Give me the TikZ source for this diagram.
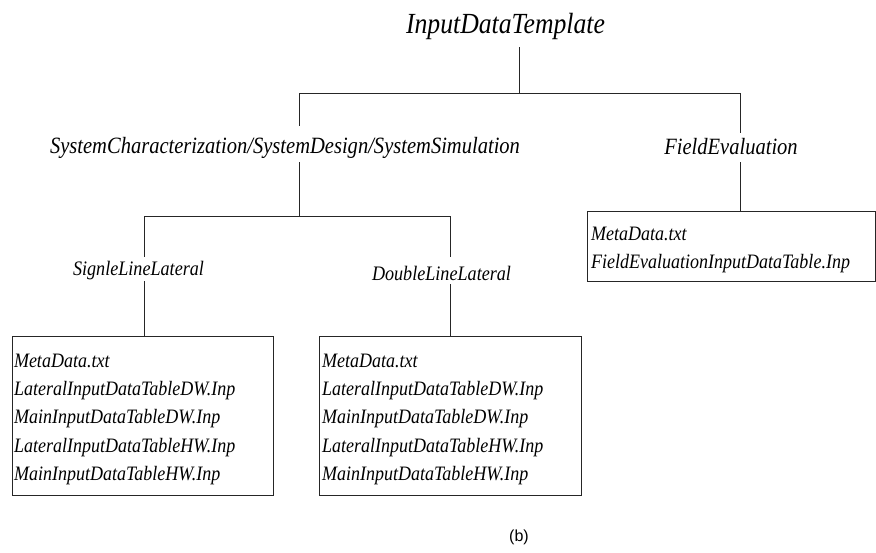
\documentclass[tikz,border=0pt]{standalone}
\usepackage{fontspec}
% narrow Times-like face for all tree texts
\setmainfont{Liberation Serif}[FakeStretch=0.88]
\setsansfont{Liberation Sans}
\usetikzlibrary{calc}
\begin{document}
\begin{tikzpicture}[x=0.75pt, y=-0.75pt, line width=0.7pt, draw=black!85,
  every node/.style={inner sep=0pt, outer sep=0pt},
  rootlbl/.style={anchor=base, font=\itshape\fontsize{21.9}{25}\selectfont},
  grouplbl/.style={anchor=base, font=\itshape\fontsize{17.5}{20}\selectfont},
  sublbl/.style={anchor=base, font=\itshape\fontsize{15.45}{18}\selectfont},
  fileline/.style={anchor=base west, font=\itshape\fontsize{15.35}{18}\selectfont},
  filebox/.style={draw=black!85, anchor=north west, minimum height=119.25pt},
  caption/.style={font=\sffamily\fontsize{12}{14}\selectfont}]
\useasboundingbox (0,0) rectangle (876,553);

% tree labels
\node[rootlbl]  (root) at (505.5,33)  {InputDataTemplate};
\node[grouplbl] (sc)   at (285,153)   {SystemCharacterization/SystemDesign/SystemSimulation};
\node[grouplbl] (fe)   at (731,154)   {FieldEvaluation};
\node[sublbl]   (sll)  at (138.5,275.5) {SignleLineLateral};
\node[sublbl]   (dll)  at (441.5,280) {DoubleLineLateral};

% junction points of the branches
\coordinate (j0) at (519.5,93);
\coordinate (jL) at (299,93);
\coordinate (jR) at (740,93);
\coordinate (kL) at (144,216);
\coordinate (kR) at (450,216);
\coordinate (k0) at (299,216);

% file boxes
\node[filebox, minimum width=195.75pt] (lbox) at (12,336.5) {};
\node[filebox, minimum width=196.5pt]  (rbox) at (319,336.5) {};
\node[draw=black!85, anchor=north west, minimum width=216pt, minimum height=52.5pt] (fbox) at (587,211) {};

% file lists
\node[fileline] (l1) at (14,367)   {MetaData.txt};
\node[fileline] (l2) at (14,395.3) {LateralInputDataTableDW.Inp};
\node[fileline] (l3) at (14,423.6) {MainInputDataTableDW.Inp};
\node[fileline] (l4) at (14,452)   {LateralInputDataTableHW.Inp};
\node[fileline] (l5) at (14,480.3) {MainInputDataTableHW.Inp};

\node[fileline] (r1) at (322,367)   {MetaData.txt};
\node[fileline] (r2) at (322,395.3) {LateralInputDataTableDW.Inp};
\node[fileline] (r3) at (322,423.6) {MainInputDataTableDW.Inp};
\node[fileline] (r4) at (322,452)   {LateralInputDataTableHW.Inp};
\node[fileline] (r5) at (322,480.3) {MainInputDataTableHW.Inp};

\node[fileline] (f1) at (591,240) {MetaData.txt};
\node[fileline] (f2) at (591,268) {FieldEvaluationInputDataTable.Inp};

% connectors
\draw ($(root.south -| j0)+(0,8)$) -- (j0);
\draw (jL) -- (jR);
\draw (jL) -- (jL |- 0,126);
\draw (k0 |- 0,162) -- (k0);
\draw (jR) -- (jR |- 0,133);
\draw (jR |- 0,162) -- (fbox.north -| jR);
\draw (kL) -- (kR);
\draw (kL) -- (kL |- 0,257);
\draw (kL |- 0,281) -- (lbox.north -| kL);
\draw (kR) -- (kR |- 0,257);
\draw (kR |- 0,284) -- (rbox.north -| kR);

% caption
\node[caption] (cap) at (519,537.5) {(b)};
\end{tikzpicture}
\end{document}
